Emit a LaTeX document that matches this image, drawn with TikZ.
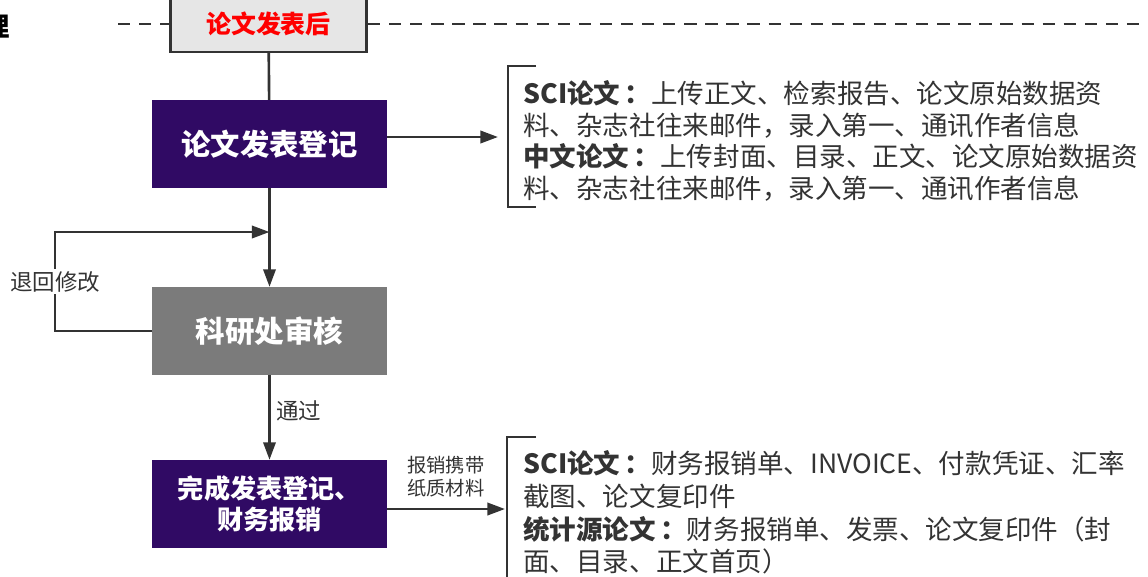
\documentclass[tikz,border=0pt]{standalone}
\usepackage{fontspec}
\setmainfont{Noto Sans CJK SC}
\usetikzlibrary{arrows.meta}
\definecolor{viola}{HTML}{300A64}
\definecolor{grigio}{HTML}{7B7B7B}
\definecolor{chiaro}{HTML}{E6E6E6}
\definecolor{scuro}{HTML}{333333}

\begin{document}
\begin{tikzpicture}[x=0.02cm,y=-0.02cm,
  freccia/.style={draw=scuro, line width=1.5pt, -{Triangle[length=10pt,width=7pt]}},
  linea/.style={draw=scuro, line width=1.5pt},
  blocco/.style={minimum width=133.2pt, minimum height=49.9pt, inner sep=0pt, text=white, align=center},
  etichetta/.style={text=scuro, font=\fontsize{12.8}{14}\selectfont, inner sep=1pt},
  testo/.style={anchor=north west, inner sep=0pt, text=scuro, align=left}]

\useasboundingbox (0,0) rectangle (1148,576);

\begin{scope}
\pgfmathsetmacro{\colonna}{269.5}
\coordinate (tratto1) at (118,24);
\coordinate (tratto2) at (1150,24);

\node[font=\fontsize{15}{15}\selectfont\bfseries] (titolo) at (-3,27) {理};

\node[draw=scuro, line width=1.5pt, fill=chiaro, minimum width=111.7pt, minimum height=31.7pt, inner sep=0pt, text=red, font=\fontsize{14.2}{16}\selectfont\bfseries] (dopo) at (268.5,24) {论文发表后};
\draw[draw=scuro, line width=1.2pt, dash pattern=on 7pt off 5pt] (tratto1) -- (dopo.west);
\draw[draw=scuro, line width=1.2pt, dash pattern=on 7pt off 5pt] (dopo.east) -- (tratto2);

\node[blocco, fill=viola, font=\fontsize{16.7}{19}\selectfont\bfseries] (denglu) at (\colonna,144) {论文发表登记};
\node[blocco, fill=grigio, font=\fontsize{16.8}{19}\selectfont\bfseries] (shenhe) at (\colonna,331) {科研处审核};
\node[blocco, fill=viola, font=\fontsize{14.9}{18}\selectfont\bfseries] (wancheng) at (\colonna,504) {完成发表登记、\\财务报销};

\draw[linea] (dopo) -- (denglu);
\draw[freccia] (denglu) -- (shenhe);

\coordinate (ritorno) at (\colonna,232);
\draw[freccia] (shenhe.west) -- ++(-97,0) |- node[etichetta, fill=white, pos=.25] (tuihui) {退回修改} (ritorno);

\draw[freccia] (shenhe) -- node[etichetta, right=2pt, pos=.42] (tongguo) {通过} (wancheng);

% allegati
\coordinate (parentesi1) at (498,137);
\draw[freccia] (denglu.east |- parentesi1) -- (parentesi1);
\draw[draw=scuro, line width=1.2pt] (536,66) -- (508,66) -- (508,207) -- (536,207);
\node[testo, font=\fontsize{15.1}{18}\selectfont] (sci1) at (523,80)
  {{\bfseries SCI论文\,：}上传正文、检索报告、论文原始数据资\\
   料、杂志社往来邮件，录入第一、通讯作者信息\\
   {\bfseries 中文论文\,：}上传封面、目录、正文、论文原始数据资\\
   料、杂志社往来邮件，录入第一、通讯作者信息};

\coordinate (parentesi2) at (505,509);
\draw[freccia] (wancheng.east |- parentesi2) -- node[etichetta, above=5pt, align=center, font=\fontsize{11}{13}\selectfont] (cartaceo) {报销携带\\纸质材料} (parentesi2);
\draw[draw=scuro, line width=1.2pt] (536,437) -- (507,437) -- (507,580);
\node[testo, font=\fontsize{15.1}{18.7}\selectfont] (sci2) at (523,450)
  {{\bfseries SCI论文\,：}财务报销单、INVOICE、付款凭证、汇率\\
   截图、论文复印件\\
   {\bfseries 统计源论文\,：}财务报销单、发票、论文复印件（封\\
   面、目录、正文首页）};
\end{scope}

\end{tikzpicture}
\end{document}
